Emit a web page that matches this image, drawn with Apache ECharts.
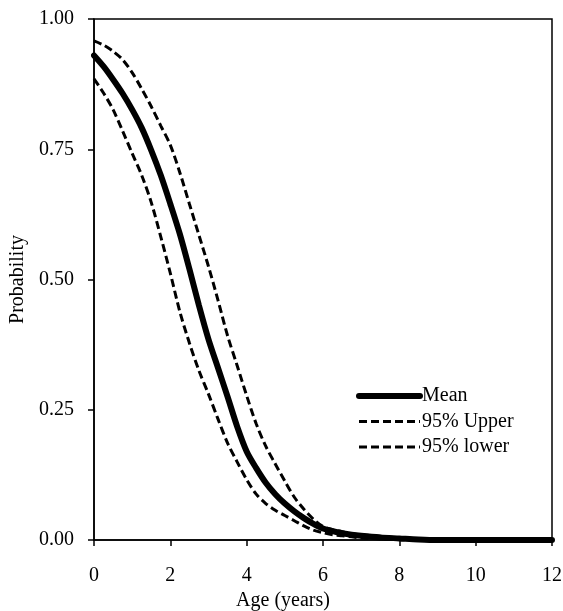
<!DOCTYPE html>
<html>
<head>
<meta charset="utf-8">
<script src="https://cdn.jsdelivr.net/npm/echarts@6/dist/echarts.min.js"></script>
<style>html,body{margin:0;padding:0;background:#fff;}#c{width:563px;height:611px;}</style>
</head>
<body>
<div id="c"></div>
<script>
var ages = [0,0.25,0.5,0.75,1,1.25,1.5,1.75,2,2.25,2.5,2.75,3,3.25,3.5,3.75,4,4.25,4.5,4.75,5,5.25,5.5,5.75,6,6.25,6.5,6.75,7,7.5,8,8.5,9,9.5,10,10.5,11,11.5,12];
var meanP = [0.930,0.909,0.884,0.857,0.826,0.791,0.748,0.700,0.645,0.587,0.520,0.450,0.385,0.330,0.275,0.218,0.170,0.138,0.110,0.088,0.070,0.055,0.042,0.031,0.022,0.017,0.013,0.010,0.008,0.005,0.003,0.001,0,0,0,0,0,0,0];
var upperP = [0.958,0.950,0.938,0.922,0.897,0.866,0.832,0.795,0.758,0.705,0.645,0.585,0.525,0.460,0.392,0.335,0.277,0.223,0.180,0.146,0.113,0.082,0.059,0.040,0.026,0.020,0.016,0.012,0.010,0.007,0.004,0.002,0.001,0,0,0,0,0,0];
var lowerP = [0.885,0.858,0.826,0.785,0.742,0.700,0.648,0.582,0.512,0.438,0.378,0.325,0.280,0.232,0.186,0.150,0.116,0.088,0.070,0.057,0.047,0.037,0.027,0.019,0.014,0.010,0.008,0.006,0.004,0.002,0.001,0,0,0,0,0,0,0,0];
var xTicks = [0,2,4,6,8,10,12];
var yTicks = [0,0.25,0.5,0.75,1];
var seriesNames = ['Mean','95% Upper','95% lower'];

function pairs(v){ return ages.map(function(a,i){ return [a, v[i]]; }); }

var font = 'Liberation Serif';
var fs = 20;
var hideSym = { color: 'rgba(0,0,0,0)', borderWidth: 0, opacity: 0 };
var chart = echarts.init(document.getElementById('c'));
chart.setOption({
  animation: false,
  backgroundColor: '#fff',
  grid: { left: 94, right: 11, top: 19, bottom: 71, outerBoundsMode: 'none', containLabel: false,
          show: true, borderColor: '#000', borderWidth: 1.5, backgroundColor: 'transparent' },
  legend: {
    orient: 'vertical', left: 356, top: 386, padding: 0,
    itemWidth: 61, itemHeight: 20, itemGap: 5.5,
    data: [
      { name: seriesNames[0], lineStyle: { width: 6, cap: 'round' }, itemStyle: hideSym },
      { name: seriesNames[1], lineStyle: { width: 3, type: [8,4] }, itemStyle: hideSym },
      { name: seriesNames[2], lineStyle: { width: 3, type: [8,4] }, itemStyle: hideSym }
    ],
    textStyle: { fontFamily: font, fontSize: fs, color: '#000', padding: [0,0,0,-3] }
  },
  xAxis: {
    type: 'value', min: xTicks[0], max: xTicks[xTicks.length-1], interval: 2,
    name: 'Age (years)', nameLocation: 'middle', nameGap: 50,
    nameTextStyle: { fontFamily: font, fontSize: fs, color: '#000', padding: [0, 80, 0, 0] },
    axisLine: { lineStyle: { color: '#000', width: 1.5 } },
    axisTick: { show: true, length: 6, lineStyle: { color: '#000', width: 1.5 } },
    axisLabel: { fontFamily: font, fontSize: fs, color: '#000', margin: 26 },
    splitLine: { show: false }
  },
  yAxis: {
    type: 'value', min: yTicks[0], max: yTicks[yTicks.length-1], interval: 0.25,
    name: 'Probability', nameLocation: 'middle', nameGap: 62,
    nameTextStyle: { fontFamily: font, fontSize: fs, color: '#000' },
    axisLine: { show: true, lineStyle: { color: '#000', width: 1.5 } },
    axisTick: { show: true, length: 6, lineStyle: { color: '#000', width: 1.5 } },
    axisLabel: { fontFamily: font, fontSize: fs, color: '#000', margin: 20, formatter: function(v){ return v.toFixed(2); } },
    splitLine: { show: false }
  },
  series: [
    { name: seriesNames[0], type: 'line', data: pairs(meanP), symbol: 'none', smooth: 0.3,
      lineStyle: { color: '#000', width: 6, cap: 'round' }, itemStyle: { color: '#000' }, z: 3 },
    { name: seriesNames[1], type: 'line', data: pairs(upperP), symbol: 'none', smooth: 0.3,
      lineStyle: { color: '#000', width: 3, type: [8,4] }, itemStyle: { color: '#000' }, z: 2 },
    { name: seriesNames[2], type: 'line', data: pairs(lowerP), symbol: 'none', smooth: 0.3,
      lineStyle: { color: '#000', width: 3, type: [8,4] }, itemStyle: { color: '#000' }, z: 2 }
  ]
});
</script>
</body>
</html>
